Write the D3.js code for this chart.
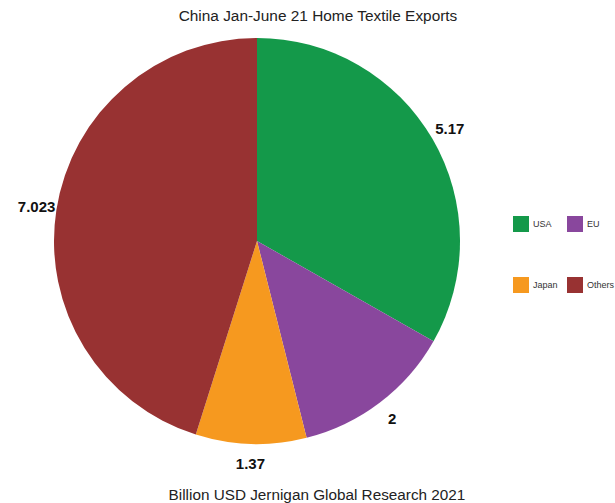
<!DOCTYPE html>
<html>
<head>
<meta charset="utf-8">
<script src="https://cdn.jsdelivr.net/npm/d3@7"></script>
<style>
  html, body { margin: 0; padding: 0; background: #fff; }
  svg { display: block; font-family: "Liberation Sans", Arial, sans-serif; }
</style>
</head>
<body>
<svg id="chart" width="615" height="503"></svg>
<script>
// Export destinations and values (billion USD)
const regions = ["USA", "EU", "Japan", "Others"];
const exportValues = [5.17, 2, 1.37, 7.023];
const valueLabels = ["5.17", "2", "1.37", "7.023"];
const sliceColors = ["#14994a", "#89479d", "#f6991f", "#983232"];

const title = "China Jan-June 21 Home Textile Exports";
const caption = "Billion USD Jernigan Global Research 2021";

const svg = d3.select("#chart");
const cx = 257, cy = 241, radius = 203;

const color = d3.scaleOrdinal().domain(regions).range(sliceColors);

const data = regions.map((r, i) => ({ region: r, value: exportValues[i], label: valueLabels[i] }));

const pie = d3.pie().sort(null).value(d => d.value);
const arcs = pie(data);

const arc = d3.arc().innerRadius(0).outerRadius(radius);
const labelArc = d3.arc().innerRadius(223).outerRadius(223);

const g = svg.append("g").attr("transform", `translate(${cx},${cy})`);

g.selectAll("path.slice")
  .data(arcs)
  .join("path")
  .attr("class", "slice")
  .attr("d", arc)
  .attr("fill", d => color(d.data.region));

g.selectAll("text.value")
  .data(arcs)
  .join("text")
  .attr("class", "value")
  .attr("transform", d => `translate(${labelArc.centroid(d)})`)
  .attr("text-anchor", "middle")
  .attr("dominant-baseline", "central")
  .attr("font-size", 15)
  .attr("font-weight", "bold")
  .attr("fill", "#111")
  .text(d => d.data.label);

// Title and caption
svg.append("text")
  .attr("x", 318).attr("y", 21)
  .attr("text-anchor", "middle")
  .attr("font-size", 15.4)
  .attr("fill", "#222")
  .text(title);

svg.append("text")
  .attr("x", 317).attr("y", 500)
  .attr("text-anchor", "middle")
  .attr("font-size", 15.3)
  .attr("fill", "#222")
  .text(caption);

// Legend: two columns, two rows
const legend = svg.append("g").attr("transform", "translate(513,216)");
const colStep = 54, rowStep = 61;
const items = legend.selectAll("g.item")
  .data(regions)
  .join("g")
  .attr("class", "item")
  .attr("transform", (d, i) => `translate(${(i % 2) * colStep},${Math.floor(i / 2) * rowStep})`);

items.append("rect")
  .attr("width", 16).attr("height", 16)
  .attr("fill", d => color(d));

items.append("text")
  .attr("x", 20).attr("y", 8)
  .attr("dominant-baseline", "central")
  .attr("font-size", 9)
  .attr("fill", "#333")
  .text(d => d);
</script>
</body>
</html>
